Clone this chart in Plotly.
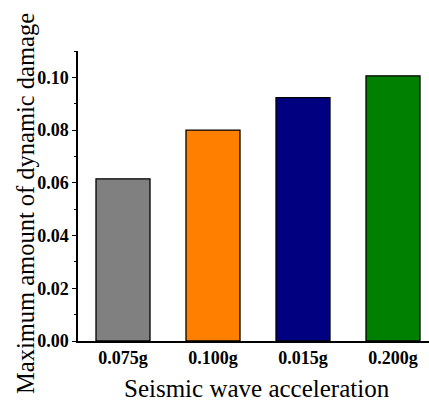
import plotly.graph_objects as go

categories = ["0.075g", "0.100g", "0.015g", "0.200g"]
damage = [0.0615, 0.080, 0.0923, 0.1006]
bar_colors = ["#808080", "#FF8000", "#000080", "#008000"]
y_ticks = [0.00, 0.02, 0.04, 0.06, 0.08, 0.10]
y_tick_labels = ["0.00", "0.02", "0.04", "0.06", "0.08", "0.10"]
x_title = "Seismic wave acceleration"
y_title = "Maximum amount of dynamic damage"

serif = "Liberation Serif, Times New Roman, serif"

fig = go.Figure(
    go.Bar(
        x=categories,
        y=damage,
        marker=dict(color=bar_colors, line=dict(color="black", width=1.3)),
    )
)

fig.update_layout(
    width=429,
    height=402,
    margin=dict(l=78, r=0, t=51, b=61),
    paper_bgcolor="white",
    plot_bgcolor="white",
    bargap=0.4,
    showlegend=False,
    font=dict(family=serif, color="black"),
    annotations=[
        dict(
            text=x_title, xref="paper", yref="paper", x=0.5, y=0,
            xanchor="center", yanchor="middle", xshift=3.5, yshift=-47,
            showarrow=False, font=dict(family=serif, size=25, color="black"),
        ),
        dict(
            text=y_title, xref="paper", yref="paper", x=0, y=0.5,
            xanchor="center", yanchor="middle", xshift=-53, yshift=-8,
            textangle=-90, showarrow=False,
            font=dict(family=serif, size=24.5, color="black"),
        ),
    ],
)

fig.update_xaxes(
    type="category",
    range=[-0.5, 3.4],
    showline=True,
    linecolor="black",
    linewidth=1.5,
    ticks="",
    ticklen=0,
    showgrid=False,
    tickfont=dict(family=serif, size=18, color="black", weight="bold"),
)

fig.update_yaxes(
    range=[0, 0.11],
    showline=True,
    linecolor="black",
    linewidth=1.5,
    ticks="outside",
    ticklen=4,
    tickwidth=1,
    tickcolor="black",
    tickvals=y_ticks,
    ticktext=y_tick_labels,
    showgrid=False,
    zeroline=False,
    minor=dict(dtick=0.01, ticks="outside", ticklen=2, tickcolor="black", showgrid=False),
    tickfont=dict(family=serif, size=18, color="black", weight="bold"),
)

fig.write_html(
    "out.html",
    config={"displayModeBar": False},
    post_script="document.body.style.margin='0';document.body.style.overflow='hidden';",
)
